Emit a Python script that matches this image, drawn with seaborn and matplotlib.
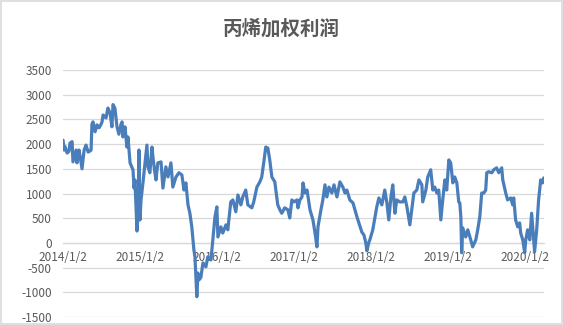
import matplotlib
matplotlib.use("Agg")
import matplotlib.pyplot as plt
import seaborn as sns
import pandas as pd

title = "丙烯加权利润"

dates = [
    "2014-01-02", "2014-01-07", "2014-01-11", "2014-01-21", "2014-01-30", "2014-02-04", "2014-02-14",
    "2014-02-18", "2014-02-28", "2014-03-05", "2014-03-09", "2014-03-19", "2014-03-24", "2014-04-02",
    "2014-04-12", "2014-04-21", "2014-05-01", "2014-05-10", "2014-05-15", "2014-05-19", "2014-05-24",
    "2014-06-03", "2014-06-12", "2014-06-22", "2014-07-01", "2014-07-06", "2014-07-11", "2014-07-25",
    "2014-08-03", "2014-08-13", "2014-08-22", "2014-08-27", "2014-09-05", "2014-09-15", "2014-09-24",
    "2014-10-04", "2014-10-09", "2014-10-13", "2014-10-23", "2014-11-01", "2014-11-06", "2014-11-16",
    "2014-11-30", "2014-12-05", "2014-12-09", "2014-12-19", "2014-12-24", "2014-12-28",
    "2015-01-02", "2015-01-07", "2015-01-16", "2015-01-26", "2015-02-04", "2015-02-09", "2015-02-18",
    "2015-02-28", "2015-03-05", "2015-03-14", "2015-03-19", "2015-03-28", "2015-04-12", "2015-04-21",
    "2015-05-05", "2015-05-15", "2015-05-29", "2015-06-07", "2015-06-22", "2015-07-06", "2015-07-20",
    "2015-07-30", "2015-08-08", "2015-08-18", "2015-08-27", "2015-09-05", "2015-09-15", "2015-09-20",
    "2015-09-29", "2015-10-04", "2015-10-09", "2015-10-18", "2015-10-28", "2015-11-11", "2015-11-20",
    "2015-12-05", "2015-12-14", "2015-12-24",
    "2016-01-02", "2016-01-07", "2016-01-21", "2016-01-30", "2016-02-14", "2016-02-23", "2016-03-08",
    "2016-03-18", "2016-04-01", "2016-04-11", "2016-04-25", "2016-05-04", "2016-05-18", "2016-05-28",
    "2016-06-16", "2016-06-25", "2016-07-10", "2016-07-24", "2016-08-02", "2016-08-12", "2016-08-21",
    "2016-08-31", "2016-09-09", "2016-09-19", "2016-10-03", "2016-10-17", "2016-10-27", "2016-11-05",
    "2016-11-19", "2016-12-04", "2016-12-13", "2016-12-23",
    "2017-01-02", "2017-01-16", "2017-01-21", "2017-01-30", "2017-02-09", "2017-02-14", "2017-02-23",
    "2017-03-05", "2017-03-19", "2017-04-02", "2017-04-12", "2017-04-21", "2017-04-26", "2017-05-10",
    "2017-05-19", "2017-05-29", "2017-06-07", "2017-06-17", "2017-07-01", "2017-07-11", "2017-07-25",
    "2017-08-08", "2017-08-22", "2017-09-01", "2017-09-10", "2017-09-24", "2017-10-09", "2017-10-28",
    "2017-11-06", "2017-11-20", "2017-11-30", "2017-12-09", "2017-12-14", "2017-12-24", "2017-12-28",
    "2018-01-11", "2018-01-30", "2018-02-09", "2018-02-23", "2018-03-09", "2018-03-19", "2018-03-28",
    "2018-04-07", "2018-04-16", "2018-04-26", "2018-05-05", "2018-05-19", "2018-06-03", "2018-06-12",
    "2018-06-22", "2018-07-06", "2018-07-15", "2018-07-25", "2018-08-08", "2018-08-18", "2018-09-01",
    "2018-09-05", "2018-09-20", "2018-09-29", "2018-10-13", "2018-10-23", "2018-11-01", "2018-11-11",
    "2018-11-20", "2018-11-30", "2018-12-09", "2018-12-19", "2018-12-28",
    "2019-01-07", "2019-01-16", "2019-01-26", "2019-02-04", "2019-02-14", "2019-02-23", "2019-02-28",
    "2019-03-05", "2019-03-09", "2019-03-14", "2019-03-28", "2019-04-07", "2019-04-21", "2019-04-30",
    "2019-05-15", "2019-05-24", "2019-06-03", "2019-06-12", "2019-06-22", "2019-07-01", "2019-07-06",
    "2019-07-15", "2019-07-30", "2019-08-08", "2019-08-22", "2019-09-01", "2019-09-15", "2019-09-20",
    "2019-10-04", "2019-10-13", "2019-10-28", "2019-11-06", "2019-11-11", "2019-11-20", "2019-11-30",
    "2019-12-09", "2019-12-14", "2019-12-24",
    "2020-01-02", "2020-01-07", "2020-01-16", "2020-01-26", "2020-02-04", "2020-02-09", "2020-02-18",
    "2020-02-28", "2020-03-08", "2020-03-18", "2020-03-27", "2020-04-01",
]

profit = [
    2080, 1880, 1950, 1820, 1850, 2020, 2050,
    1640, 1800, 1880, 1620, 1880, 1750, 1500,
    1880, 1980, 1840, 1860, 1880, 2400, 2450,
    2250, 2390, 2330, 2400, 2450, 2590, 2530,
    2730, 2630, 2350, 2800, 2730, 2350, 2200,
    2400, 2450, 2145, 2350, 1940, 2145, 1620,
    1480, 1110, 1275, 240, 600, 1880,
    465, 870, 1210, 1620, 1980, 1540, 1420,
    1940, 1720, 1420, 1275, 1620, 1640, 1110,
    1540, 1335, 1620, 1130, 1335, 1420, 1375,
    1070, 1215, 770, 600, 325, -140, -280,
    -1090, -610, -750, -700, -405, -485, -280,
    -345, 60, 525,
    730, 120, 325, 200, 365, 265, 830,
    870, 630, 970, 770, 930, 1070, 770,
    710, 830, 1130, 1235, 1335, 1640, 1940,
    1920, 1680, 1335, 1235, 770, 670, 600,
    710, 670, 505, 870,
    830, 870, 710, 870, 930, 1215, 1010,
    1070, 670, 465, 200, -80, 325, 670,
    870, 1175, 930, 1130, 1010, 1175, 930,
    1235, 1130, 1010, 1070, 870, 810, 525,
    405, 220, 160, 0, -160, 20, 60,
    265, 730, 910, 770, 1070, 810, 465,
    930, 1175, 600, 870, 830, 830, 930,
    730, 365, 670, 1010, 1070, 1275, 1175,
    830, 1070, 1335, 1480, 1070, 1130, 1010,
    1070, 465, 870, 1275, 1070,
    1680, 1620, 1215, 1335, 1215, 830, 810,
    525, -200, 305, 120, 265, 60, -80,
    60, 265, 525, 1010, 1010, 1070, 1420,
    1440, 1420, 1480, 1520, 1420, 1520, 1275,
    1010, 870, 910, 770, 910, 465, 325,
    405, 200, 60,
    -200, 60, 265, 60, 600, 325, -180,
    265, 870, 1275, 1215, 1315,
]

xtick_dates = ["2014-01-02", "2015-01-02", "2016-01-02", "2017-01-02",
               "2018-01-02", "2019-01-02", "2020-01-02"]
xtick_labels = ["2014/1/2", "2015/1/2", "2016/1/2", "2017/1/2",
                "2018/1/2", "2019/1/2", "2020/1/2"]
yticks = [-1500, -1000, -500, 0, 500, 1000, 1500, 2000, 2500, 3000, 3500]

df = pd.DataFrame({"date": pd.to_datetime(dates), "profit": profit})

sns.set_theme(style="white")
plt.rcParams["font.family"] = ["Noto Sans CJK SC", "DejaVu Sans"]

fig = plt.figure(figsize=(5.63, 3.25), dpi=100)
ax = fig.add_axes([0.112, 0.0246, 0.854, 0.76])

sns.lineplot(data=df, x="date", y="profit", ax=ax, color="#4A7EBB",
             linewidth=2.3, zorder=3)

ax.set_ylim(-1500, 3500)
ax.set_xlim(pd.Timestamp("2014-01-02"), pd.Timestamp("2020-04-02"))
ax.set_yticks(yticks)
ax.set_yticklabels([str(v) for v in yticks])
ax.set_xticks(pd.to_datetime(xtick_dates))
ax.set_xticklabels(xtick_labels)

ax.set_axisbelow(True)
ax.yaxis.grid(True, color="#d9d9d9", linewidth=0.9)
ax.xaxis.grid(False)
for s in ["left", "right", "top"]:
    ax.spines[s].set_visible(False)
ax.spines["bottom"].set_position(("data", 0))
ax.spines["bottom"].set_color("#d9d9d9")
ax.spines["bottom"].set_linewidth(0.9)

ax.tick_params(axis="y", length=0, pad=8, labelsize=8.5, labelcolor="#595959")
ax.tick_params(axis="x", length=3.5, width=0.9, color="#d9d9d9", direction="out",
               pad=2, labelsize=8.5, labelcolor="#595959")
ax.set_xlabel("")
ax.set_ylabel("")

fig.text(0.5, 0.912, title, ha="center", va="center", fontsize=14,
         fontweight="bold", color="#595959")

fig.patches.append(plt.Rectangle((0.001, 0.002), 0.997, 0.995, transform=fig.transFigure,
                                 fill=False, edgecolor="#d9d9d9", linewidth=1.2))

fig.savefig("out.png", dpi=100)
